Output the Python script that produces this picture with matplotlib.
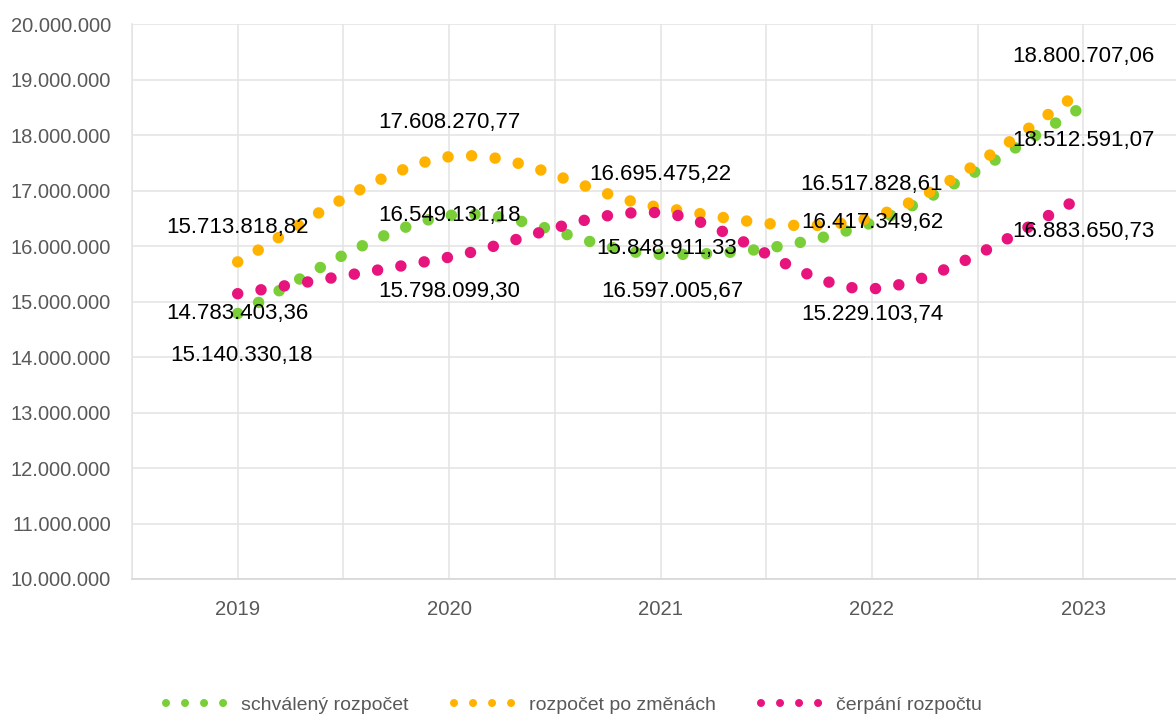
import matplotlib
matplotlib.use('Agg')
import matplotlib.pyplot as plt
from matplotlib.path import Path
from matplotlib.patches import PathPatch
from matplotlib.lines import Line2D
import numpy as np

# data (CZK)
years = ['2019', '2020', '2021', '2022', '2023']
schvaleny = [14783403.36, 16549131.18, 15848911.33, 16417349.62, 18512591.07]
po_zmenach = [15713818.82, 17608270.77, 16695475.22, 16517828.61, 18800707.06]
cerpani = [15140330.18, 15798099.30, 16597005.67, 15229103.74, 16883650.73]
series_names = ['schválený rozpočet', 'rozpočet po změnách', 'čerpání rozpočtu']

colors = ['#7ACF38', '#FFB300', '#E8147D']

# label offsets in pixels (dx, dy), one list per series
label_offsets = [
    [(0, 0), (0, 0), (6, 6), (0, 0), (0, -34)],
    [(0, 34), (0, 34), (0, 33), (0, 33), (0, 34)],
    [(4, -62), (0, -34), (12, -79), (0, -26), (0, -35)],
]

plt.rcParams['font.family'] = ['Liberation Sans', 'DejaVu Sans']

W, H = 1176, 717
fig = plt.figure(figsize=(W / 100, H / 100), dpi=100)
left, right, top, bottom = 132, 1189, 24, 579
ax = fig.add_axes([left / W, 1 - bottom / H, (right - left) / W, (bottom - top) / H])

ax.set_xlim(-0.5, len(years) - 0.5)
ax.set_ylim(10000000, 20000000)
ax.set_yticks(np.arange(10000000, 20000001, 1000000))
ax.set_yticklabels([f'{int(v):,}'.replace(',', '.') for v in ax.get_yticks()])
ax.set_xticks(range(len(years)))
ax.set_xticklabels(years)
ax.set_xticks(np.arange(-0.5, len(years), 1.0), minor=True)

grid_c = '#E3E3E3'
ax.grid(True, which='major', axis='both', color=grid_c, lw=1.1)
ax.grid(True, which='minor', axis='x', color=grid_c, lw=1.1)
ax.set_axisbelow(True)
for s in ['top', 'right']:
    ax.spines[s].set_visible(False)
ax.spines['left'].set_color(grid_c)
ax.spines['left'].set_linewidth(1.1)
ax.spines['bottom'].set_color('#D9D9D9')
ax.spines['bottom'].set_linewidth(1.3)
ax.tick_params(which='both', length=0)
ax.tick_params(axis='y', pad=15, labelsize=14.5, labelcolor='#595959')
ax.tick_params(axis='x', pad=15, labelsize=14.6, labelcolor='#595959')


def smooth_path(xs, ys):
    # Excel-like smoothed line as cubic Bezier segments
    pts = np.column_stack([xs, ys]).astype(float)
    ext = np.vstack([pts[0], pts, pts[-1]])
    verts = [pts[0]]
    codes = [Path.MOVETO]
    for i in range(len(pts) - 1):
        p0, p1, p2, p3 = ext[i], ext[i + 1], ext[i + 2], ext[i + 3]
        verts += [p1 + (p2 - p0) / 6, p2 - (p3 - p1) / 6, p2]
        codes += [Path.CURVE4] * 3
    return Path(verts, codes)


dot_style = (0, (0.001, 2.05))
xs = np.arange(len(years))
all_series = [schvaleny, po_zmenach, cerpani]
for vals, c in zip(all_series, colors):
    patch = PathPatch(smooth_path(xs, vals), fill=False, edgecolor=c, lw=8.3,
                      linestyle=dot_style, capstyle='round', zorder=3)
    ax.add_patch(patch)

for vals, offs in zip(all_series, label_offsets):
    for x, v, (dx, dy) in zip(xs, vals, offs):
        txt = f'{v:,.2f}'.replace(',', ' ').replace('.', ',').replace(' ', '.')
        ax.annotate(txt, (x, v), xytext=(dx, dy), textcoords='offset pixels',
                    ha='center', va='center', fontsize=16, color='black', zorder=5)

handles = [Line2D([], [], color=c, lw=5.8, linestyle=(0, (0.001, 2.36)),
                  dash_capstyle='round') for c in colors]
fig.legend(handles, series_names, loc='center left',
           bbox_to_anchor=(166 / W, 1 - 705 / H), ncol=3, frameon=False,
           fontsize=14, labelcolor='#595959', handlelength=2.98,
           handletextpad=0.9, columnspacing=2.3, borderpad=0, borderaxespad=0)

fig.savefig('out.png', dpi=100)
